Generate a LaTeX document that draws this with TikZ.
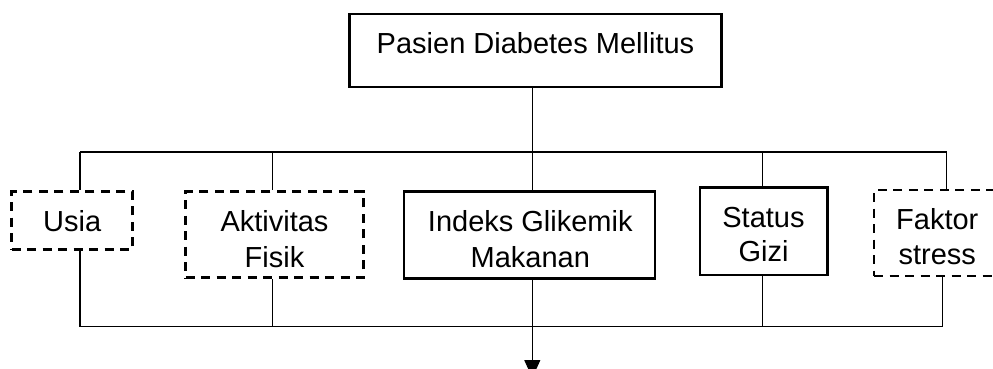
\documentclass[tikz,border=0pt]{standalone}
\usepackage{fontspec}
\setmainfont{Liberation Sans}
\usetikzlibrary{arrows.meta}
\begin{document}
\begin{tikzpicture}[x=1pt,y=-1pt,
  boxsolid/.style={draw, line width=2.6pt, rectangle, inner sep=0pt},
  boxdash/.style={draw, line width=2.6pt, rectangle, inner sep=0pt, dash pattern=on 9pt off 6.5pt},
  lbl/.style={anchor=base, inner sep=0pt, font=\fontsize{29pt}{35pt}\selectfont},
  conn/.style={line width=1.1pt},
  arr/.style={line width=1.1pt, -{Triangle[width=16pt,length=18pt]}}]
\useasboundingbox (0,0) rectangle (993,369);
\clip (0,0) rectangle (993,369);
% boxes
\node[boxsolid, minimum width=372pt, minimum height=73pt] (pasien) at (535.6,50.5) {};
\node[boxdash, minimum width=121pt, minimum height=57.6pt] (usia) at (72.2,220.5) {};
\node[boxdash, minimum width=177.6pt, minimum height=86pt] (aktiv) at (274.5,234.7) {};
\node[boxsolid, minimum width=251pt, minimum height=86.6pt] (indeks) at (529.5,235) {};
\node[boxsolid, minimum width=127.3pt, minimum height=87.3pt] (status) at (763.7,231.3) {};
\node[boxdash, minimum width=126pt, minimum height=86pt] (faktor) at (937,233) {};
% texts
\node[lbl] (tpasien) at (535.5,54) {Pasien Diabetes Mellitus};
\node[lbl] (tusia) at (72.2,231.7) {Usia};
\node[lbl] (taktiv1) at (274.5,231.7) {Aktivitas};
\node[lbl] (taktiv2) at (274.5,267.3) {Fisik};
\node[lbl] (tindeks1) at (530.3,231.2) {Indeks Glikemik};
\node[lbl] (tindeks2) at (530.3,267.3) {Makanan};
\node[lbl] (tstatus1) at (763.5,227.3) {Status};
\node[lbl] (tstatus2) at (763.5,261.7) {Gizi};
\node[lbl] (tfaktor1) at (937.3,229.3) {Faktor};
\node[lbl] (tfaktor2) at (937.3,264) {stress};
% bus coordinates
\coordinate (tU) at (80,152);
\coordinate (tA) at (272.7,152);
\coordinate (tI) at (532.3,152);
\coordinate (tS) at (762.7,152);
\coordinate (tF) at (946.7,152);
\coordinate (bU) at (80,326.7);
\coordinate (bA) at (272.7,326.7);
\coordinate (bI) at (532.3,326.7);
\coordinate (bS) at (762.7,326.7);
\coordinate (bF) at (942.7,326.7);
\coordinate (out) at (532.3,378);
% connectors
\draw[conn] (pasien.south -| tI) -- (tI);
\draw[conn] (tU) -- (tF);
\draw[conn] (tU) -- (tU |- usia.north);
\draw[conn] (tA) -- (tA |- aktiv.north);
\draw[conn] (tI) -- (tI |- indeks.north);
\draw[conn] (tS) -- (tS |- status.north);
\draw[conn] (tF) -- (tF |- faktor.north);
\draw[conn] (bU |- usia.south) -- (bU);
\draw[conn] (bA |- aktiv.south) -- (bA);
\draw[conn] (bS |- status.south) -- (bS);
\draw[conn] (bF |- faktor.south) -- (bF);
\draw[conn] (bU) -- (bF);
\draw[arr] (bI |- indeks.south) -- (out);
\end{tikzpicture}
\end{document}
